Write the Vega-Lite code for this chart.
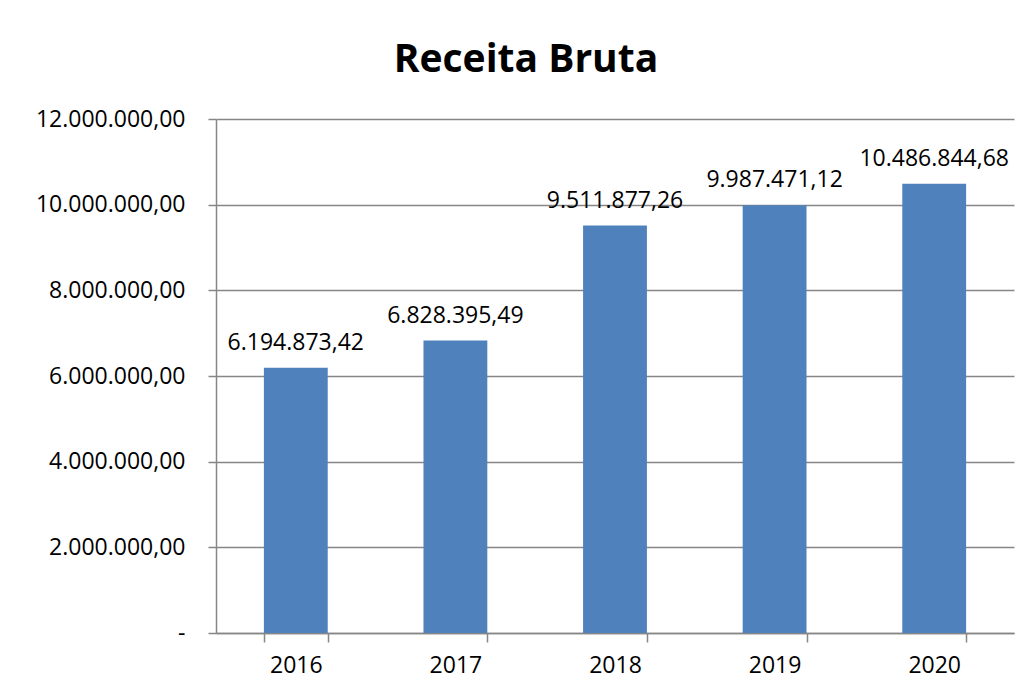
{
  "$schema": "https://vega.github.io/schema/vega-lite/v6.json",
  "width": 798,
  "height": 514,
  "autosize": {"type": "none"},
  "padding": {"left": 216, "top": 119, "right": 21, "bottom": 65},
  "background": "white",
  "config": {
    "locale": {"number": {"decimal": ",", "thousands": ".", "grouping": [3], "currency": ["R$", ""]}},
    "view": {"stroke": null},
    "font": "Open Sans"
  },
  "title": {
    "text": "Receita Bruta",
    "fontSize": 39,
    "fontWeight": "bold",
    "font": "Open Sans",
    "color": "black",
    "baseline": "alphabetic",
    "offset": -3,
    "dx": -89,
    "anchor": "middle"
  },
  "data": {
    "values": [
      {"ano": "2016", "receita": 6194873.42},
      {"ano": "2017", "receita": 6828395.49},
      {"ano": "2018", "receita": 9511877.26},
      {"ano": "2019", "receita": 9987471.12},
      {"ano": "2020", "receita": 10486844.68}
    ]
  },
  "encoding": {
    "x": {
      "field": "ano",
      "type": "ordinal",
      "scale": {"paddingInner": 0.6, "paddingOuter": 0.3},
      "axis": {
        "title": null,
        "labelAngle": 0,
        "tickBand": "extent",
        "domainColor": "#868686",
        "domainWidth": 1.5,
        "tickColor": "#868686",
        "tickWidth": 1.5,
        "tickSize": 9,
        "labelFontSize": 23,
        "labelColor": "black",
        "labelPadding": 12,
        "labelFont": "Open Sans",
        "grid": false
      }
    },
    "y": {
      "field": "receita",
      "type": "quantitative",
      "scale": {"domain": [0, 12000000], "nice": false},
      "axis": {
        "title": null,
        "values": [0, 2000000, 4000000, 6000000, 8000000, 10000000, 12000000],
        "labelExpr": "datum.value == 0 ? '-' : format(datum.value, ',.2f')",
        "domainColor": "#868686",
        "domainWidth": 1.5,
        "tickColor": "#868686",
        "tickWidth": 1.5,
        "gridColor": "#868686",
        "gridWidth": 1.5,
        "tickSize": 8,
        "labelFontSize": 23,
        "labelColor": "black",
        "labelPadding": 23,
        "labelFont": "Open Sans"
      }
    }
  },
  "layer": [
    {"mark": {"type": "bar", "color": "#4F81BD"}},
    {
      "mark": {"type": "text", "baseline": "alphabetic", "dy": -18, "fontSize": 23, "font": "Open Sans", "color": "black"},
      "encoding": {"text": {"field": "receita", "type": "quantitative", "format": ",.2f"}}
    }
  ]
}
